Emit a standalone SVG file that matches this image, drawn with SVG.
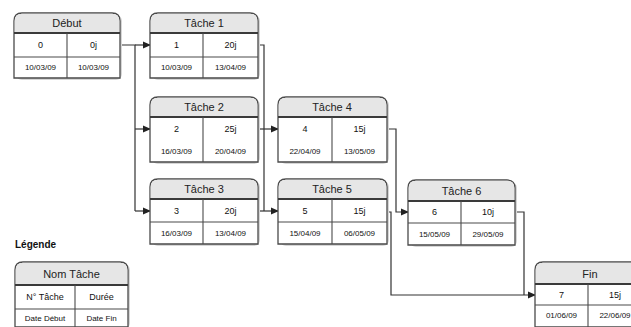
<svg xmlns="http://www.w3.org/2000/svg" width="631" height="327" viewBox="0 0 631 327">
<style>
.box{fill:#fff;stroke:#4a4a4a;stroke-width:1.3}
.hd{fill:#e6e6e6}
.ln{stroke:#4a4a4a;stroke-width:1.1;fill:none}
.hl{stroke:#3a3a3a;stroke-width:1.8}
.sh{fill:#d6d6d6}
.t{font-family:"Liberation Sans",Arial,sans-serif;font-size:11px;fill:#222;text-anchor:middle}
.v{font-family:"Liberation Sans",Arial,sans-serif;font-size:9px;fill:#111;text-anchor:middle}
.d{font-family:"Liberation Sans",Arial,sans-serif;font-size:8px;fill:#111;text-anchor:middle}
.c{stroke:#333;stroke-width:1.2;fill:none}
</style>
<defs>
<marker id="ah" markerWidth="8" markerHeight="8" refX="7" refY="4" orient="auto" markerUnits="userSpaceOnUse">
<path d="M0,0.5 L8,4 L0,7.5 Z" fill="#222"/>
</marker>
</defs>
<g id="connectors">
<path class="c" d="M120,45 H135 V211"/>
<path class="c" d="M135,45 H150" marker-end="url(#ah)"/>
<path class="c" d="M135,129 H150" marker-end="url(#ah)"/>
<path class="c" d="M135,211 H150" marker-end="url(#ah)"/>
<path class="c" d="M258,45 H264 V211"/>
<path class="c" d="M258,129 H278" marker-end="url(#ah)"/>
<path class="c" d="M258,211 H278" marker-end="url(#ah)"/>
<path class="c" d="M387,129 H396 V212 H408" marker-end="url(#ah)"/>
<path class="c" d="M387,212 H391 V295 H535" marker-end="url(#ah)"/>
<path class="c" d="M515,212 H524 V295"/>
</g>
<g id="debut">
<rect class="sh" x="16" y="15" width="106" height="65" rx="6"/>
<path class="box" d="M14,78 V21 Q14,13 22,13 H112 Q120,13 120,21 V78 Z"/>
<path class="hd" d="M14.7,33 V21 Q14.7,13.7 22,13.7 H112 Q119.3,13.7 119.3,21 V33 Z"/>
<line class="hl" x1="14" y1="33" x2="120" y2="33"/>
<line class="ln" x1="14" y1="57" x2="120" y2="57"/>
<line class="ln" x1="67" y1="33" x2="67" y2="78"/>
<text class="t" x="67" y="27">Début</text>
<text class="v" x="40.5" y="48">0</text>
<text class="v" x="93.5" y="48">0j</text>
<text class="d" x="40.5" y="70">10/03/09</text>
<text class="d" x="93.5" y="70">10/03/09</text>
</g>
<g id="tache1">
<rect class="sh" x="152" y="15" width="108" height="65" rx="6"/>
<path class="box" d="M150,78 V21 Q150,13 158,13 H250 Q258,13 258,21 V78 Z"/>
<path class="hd" d="M150.7,33 V21 Q150.7,13.7 158,13.7 H250 Q257.3,13.7 257.3,21 V33 Z"/>
<line class="hl" x1="150" y1="33" x2="258" y2="33"/>
<line class="ln" x1="150" y1="57" x2="258" y2="57"/>
<line class="ln" x1="203" y1="33" x2="203" y2="78"/>
<text class="t" x="204" y="27">Tâche 1</text>
<text class="v" x="176.5" y="48">1</text>
<text class="v" x="230.5" y="48">20j</text>
<text class="d" x="176.5" y="70">10/03/09</text>
<text class="d" x="230.5" y="70">13/04/09</text>
</g>
<g id="tache2">
<rect class="sh" x="152" y="99" width="108" height="65" rx="6"/>
<path class="box" d="M150,162 V105 Q150,97 158,97 H250 Q258,97 258,105 V162 Z"/>
<path class="hd" d="M150.7,117 V105 Q150.7,97.7 158,97.7 H250 Q257.3,97.7 257.3,105 V117 Z"/>
<line class="hl" x1="150" y1="117" x2="258" y2="117"/>
<line class="ln" x1="203" y1="117" x2="203" y2="162"/>
<text class="t" x="204" y="111">Tâche 2</text>
<text class="v" x="176.5" y="132">2</text>
<text class="v" x="230.5" y="132">25j</text>
<text class="d" x="176.5" y="154">16/03/09</text>
<text class="d" x="230.5" y="154">20/04/09</text>
</g>
<g id="tache3">
<rect class="sh" x="152" y="181" width="108" height="65" rx="6"/>
<path class="box" d="M150,244 V187 Q150,179 158,179 H250 Q258,179 258,187 V244 Z"/>
<path class="hd" d="M150.7,199 V187 Q150.7,179.7 158,179.7 H250 Q257.3,179.7 257.3,187 V199 Z"/>
<line class="hl" x1="150" y1="199" x2="258" y2="199"/>
<line class="ln" x1="150" y1="222" x2="258" y2="222"/>
<line class="ln" x1="203" y1="199" x2="203" y2="244"/>
<text class="t" x="204" y="193">Tâche 3</text>
<text class="v" x="176.5" y="214">3</text>
<text class="v" x="230.5" y="214">20j</text>
<text class="d" x="176.5" y="236">16/03/09</text>
<text class="d" x="230.5" y="236">13/04/09</text>
</g>
<g id="tache4">
<rect class="sh" x="280" y="99" width="109" height="65" rx="6"/>
<path class="box" d="M278,162 V105 Q278,97 286,97 H379 Q387,97 387,105 V162 Z"/>
<path class="hd" d="M278.7,117 V105 Q278.7,97.7 286,97.7 H379 Q386.3,97.7 386.3,105 V117 Z"/>
<line class="hl" x1="278" y1="117" x2="387" y2="117"/>
<line class="ln" x1="332" y1="117" x2="332" y2="162"/>
<text class="t" x="332" y="111">Tâche 4</text>
<text class="v" x="305" y="132">4</text>
<text class="v" x="359.5" y="132">15j</text>
<text class="d" x="305" y="154">22/04/09</text>
<text class="d" x="359.5" y="154">13/05/09</text>
</g>
<g id="tache5">
<rect class="sh" x="280" y="181" width="109" height="65" rx="6"/>
<path class="box" d="M278,244 V187 Q278,179 286,179 H379 Q387,179 387,187 V244 Z"/>
<path class="hd" d="M278.7,199 V187 Q278.7,179.7 286,179.7 H379 Q386.3,179.7 386.3,187 V199 Z"/>
<line class="hl" x1="278" y1="199" x2="387" y2="199"/>
<line class="ln" x1="278" y1="222" x2="387" y2="222"/>
<line class="ln" x1="332" y1="199" x2="332" y2="244"/>
<text class="t" x="332" y="193">Tâche 5</text>
<text class="v" x="305" y="214">5</text>
<text class="v" x="359.5" y="214">15j</text>
<text class="d" x="305" y="236">15/04/09</text>
<text class="d" x="359.5" y="236">06/05/09</text>
</g>
<g id="tache6">
<rect class="sh" x="410" y="182" width="107" height="65" rx="6"/>
<path class="box" d="M408,245 V188 Q408,180 416,180 H507 Q515,180 515,188 V245 Z"/>
<path class="hd" d="M408.7,201 V188 Q408.7,180.7 416,180.7 H507 Q514.3,180.7 514.3,188 V201 Z"/>
<line class="hl" x1="408" y1="201" x2="515" y2="201"/>
<line class="ln" x1="408" y1="223" x2="515" y2="223"/>
<line class="ln" x1="461" y1="201" x2="461" y2="245"/>
<text class="t" x="461.5" y="195">Tâche 6</text>
<text class="v" x="434.5" y="215">6</text>
<text class="v" x="488" y="215">10j</text>
<text class="d" x="434.5" y="237">15/05/09</text>
<text class="d" x="488" y="237">29/05/09</text>
</g>
<g id="fin">
<rect class="sh" x="537" y="264" width="110" height="65" rx="6"/>
<path class="box" d="M535,327 V270 Q535,262 543,262 H637 Q645,262 645,270 V327 Z"/>
<path class="hd" d="M535.7,284 V270 Q535.7,262.7 543,262.7 H637 Q644.3,262.7 644.3,270 V284 Z"/>
<line class="hl" x1="535" y1="284" x2="645" y2="284"/>
<line class="ln" x1="535" y1="305" x2="645" y2="305"/>
<line class="ln" x1="588" y1="284" x2="588" y2="327"/>
<text class="t" x="590" y="278">Fin</text>
<text class="v" x="561.5" y="298">7</text>
<text class="v" x="615" y="298">15j</text>
<text class="d" x="561.5" y="318">01/06/09</text>
<text class="d" x="615" y="318">22/06/09</text>
</g>
<g id="legende">
<text x="15" y="248" style="font-family:'Liberation Sans',Arial,sans-serif;font-size:10px;font-weight:bold;fill:#111">Légende</text>
<rect class="sh" x="17" y="264" width="113" height="65" rx="6"/>
<path class="box" d="M15,327 V270 Q15,262 23,262 H120 Q128,262 128,270 V327 Z"/>
<path class="hd" d="M15.7,285 V270 Q15.7,262.7 23,262.7 H120 Q127.3,262.7 127.3,270 V285 Z"/>
<line class="hl" x1="15" y1="285" x2="128" y2="285"/>
<line class="ln" x1="15" y1="309" x2="128" y2="309"/>
<line class="ln" x1="75" y1="285" x2="75" y2="327"/>
<text class="t" x="71.5" y="278">Nom Tâche</text>
<text class="v" x="45" y="300">N° Tâche</text>
<text class="v" x="101.5" y="300">Durée</text>
<text class="d" x="45" y="321">Date Début</text>
<text class="d" x="101.5" y="321">Date Fin</text>
</g>
</svg>
